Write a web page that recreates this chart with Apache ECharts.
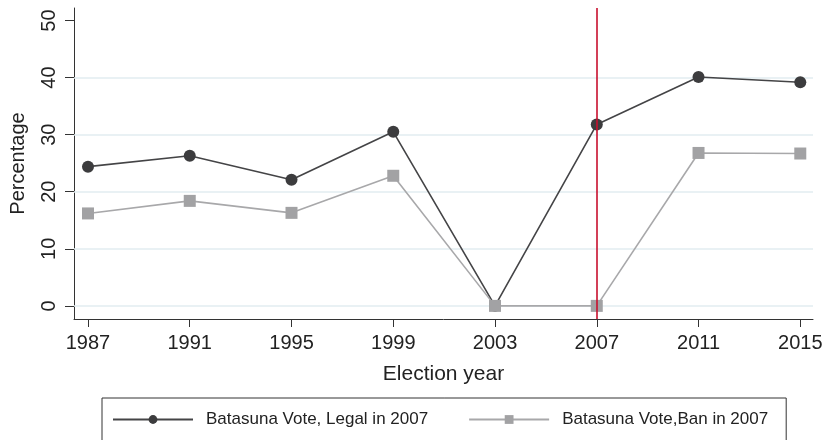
<!DOCTYPE html>
<html>
<head>
<meta charset="utf-8">
<script src="https://cdn.jsdelivr.net/npm/echarts@6/dist/echarts.min.js"></script>
<style>html,body{margin:0;padding:0;background:#fff}#c{width:827px;height:440px}</style>
</head>
<body>
<div id="c"></div>
<script>
const years = [1987, 1991, 1995, 1999, 2003, 2007, 2011, 2015];
const legalVote = [24.4, 26.3, 22.1, 30.5, 0, 31.8, 40.1, 39.2];
const banVote = [16.2, 18.4, 16.3, 22.8, 0, 0, 26.8, 26.7];
const yTicks = [0, 10, 20, 30, 40, 50];
const gridValues = [0, 10, 20, 30, 40];
const banYear = 2007;
const seriesNames = ['Batasuna Vote, Legal in 2007', 'Batasuna Vote,Ban in 2007'];

const font = 'Liberation Sans, Arial, sans-serif';
const chart = echarts.init(document.getElementById('c'));
chart.setOption({
  animation: false,
  backgroundColor: '#fff',
  grid: { left: 73, right: 14, top: 8, bottom: 121 },
  xAxis: {
    type: 'value',
    min: 1986.45,
    max: 2015.5,
    name: 'Election year',
    nameLocation: 'middle',
    nameGap: 45,
    nameTextStyle: { fontFamily: font, fontSize: 21, color: '#222' },
    axisLine: { onZero: false, lineStyle: { color: '#333', width: 1 } },
    axisTick: { show: true, length: 8, customValues: years, lineStyle: { color: '#333' } },
    axisLabel: { customValues: years, fontFamily: font, fontSize: 20, color: '#222', margin: 14, formatter: v => String(v) },
    splitLine: { show: false }
  },
  yAxis: {
    type: 'value',
    min: -2.3,
    max: 52.2,
    name: 'Percentage',
    nameLocation: 'middle',
    nameGap: 46,
    nameTextStyle: { fontFamily: font, fontSize: 20, color: '#222' },
    axisLine: { show: true, onZero: false, lineStyle: { color: '#333', width: 1 } },
    axisTick: { show: true, length: 9, customValues: yTicks, lineStyle: { color: '#333' } },
    axisLabel: { customValues: yTicks, rotate: 90, fontFamily: font, fontSize: 20, color: '#222', margin: 15 },
    splitLine: { show: false }
  },
  legend: {
    left: 102,
    top: 398,
    orient: 'horizontal',
    padding: [13, 18, 13, 10],
    borderColor: '#333',
    borderWidth: 1,
    itemWidth: 80,
    itemHeight: 11,
    itemGap: 40,
    textStyle: { fontFamily: font, fontSize: 17, color: '#222', padding: [0, 0, 0, 8] },
    data: seriesNames
  },
  series: [
    {
      name: 'grid',
      type: 'line',
      data: [],
      silent: true,
      z: 1,
      markLine: {
        silent: true,
        z: 1,
        symbol: 'none',
        label: { show: false },
        lineStyle: { color: '#e2ecf1', width: 1.5, type: 'solid' },
        data: gridValues.map(v => ({ yAxis: v }))
      }
    },
    {
      name: seriesNames[0],
      type: 'line',
      data: years.map((y, i) => [y, legalVote[i]]),
      symbol: 'circle',
      symbolSize: 12,
      clip: false,
      z: 3,
      itemStyle: { color: '#3c3c3e' },
      lineStyle: { color: '#444446', width: 1.6 },
      markLine: {
        silent: true,
        z: 6,
        symbol: 'none',
        label: { show: false },
        lineStyle: { color: '#c8102e', width: 1.6, type: 'solid' },
        data: [{ xAxis: banYear }]
      }
    },
    {
      name: seriesNames[1],
      type: 'line',
      data: years.map((y, i) => [y, banVote[i]]),
      symbol: 'rect',
      symbolSize: 12,
      clip: false,
      z: 4,
      itemStyle: { color: '#a2a2a4' },
      lineStyle: { color: '#a8a8aa', width: 1.6 }
    }
  ]
});
</script>
</body>
</html>
